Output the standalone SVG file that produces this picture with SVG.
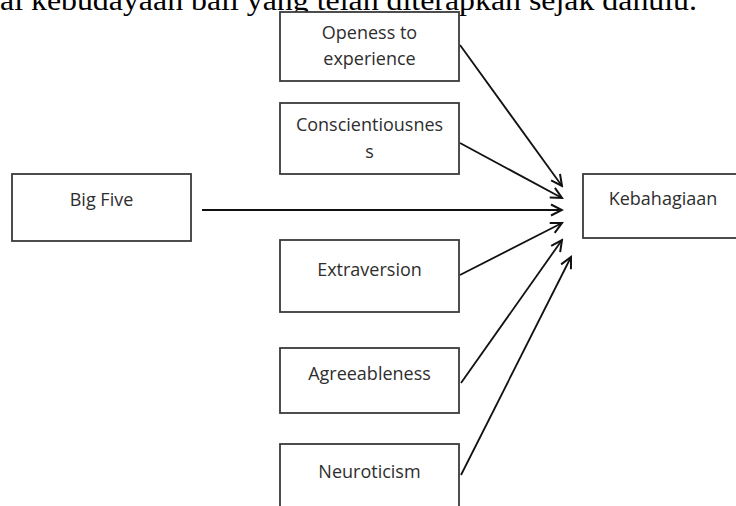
<svg xmlns="http://www.w3.org/2000/svg" width="736" height="506" viewBox="0 0 736 506">
<style>
.box{fill:#fff;stroke:#3a3a3a;stroke-width:1.8}
.lbl{font-family:"Open Sans","Liberation Sans",sans-serif;font-size:18px;fill:#2e2e2e;text-anchor:middle}
.con{stroke:#111;stroke-width:1.8;fill:none;marker-end:url(#ah)}
</style>
<defs>
<marker id="ah" viewBox="-12 -7 14 14" markerWidth="14" markerHeight="14" markerUnits="userSpaceOnUse" refX="0" refY="0" orient="auto">
<path d="M-11,-5.5 L0,0 L-11,5.5" fill="none" stroke="#111" stroke-width="2"/>
</marker>
</defs>
<rect width="736" height="506" fill="#fff"/>
<text x="0" y="10" font-family="'Liberation Serif',serif" font-size="30" textLength="697" lengthAdjust="spacingAndGlyphs" fill="#000">ai kebudayaan bali yang telah diterapkan sejak dahulu.</text>
<g id="connectors">
<line class="con" x1="460" y1="45" x2="562" y2="186"/>
<line class="con" x1="460" y1="143" x2="562" y2="198"/>
<line class="con" x1="202" y1="210" x2="562" y2="210"/>
<line class="con" x1="460" y1="275" x2="562" y2="223"/>
<line class="con" x1="461" y1="383" x2="562" y2="240"/>
<line class="con" x1="461" y1="475" x2="571" y2="257"/>
</g>
<g id="openess">
<rect class="box" x="280" y="12" width="179" height="69"/>
<text class="lbl" x="369.5" y="39">Openess to</text>
<text class="lbl" x="369.5" y="65">experience</text>
</g>
<g id="conscientiousness">
<rect class="box" x="280" y="103" width="179" height="71"/>
<text class="lbl" x="369.5" y="131">Conscientiousnes</text>
<text class="lbl" x="369.5" y="158">s</text>
</g>
<g id="bigfive">
<rect class="box" x="12" y="174" width="179" height="67"/>
<text class="lbl" x="101.5" y="206">Big Five</text>
</g>
<g id="kebahagiaan">
<rect class="box" x="583" y="174" width="160" height="64"/>
<text class="lbl" x="663" y="205">Kebahagiaan</text>
</g>
<g id="extraversion">
<rect class="box" x="280" y="240" width="179" height="72"/>
<text class="lbl" x="369.5" y="276">Extraversion</text>
</g>
<g id="agreeableness">
<rect class="box" x="280" y="348" width="179" height="65"/>
<text class="lbl" x="369.5" y="380">Agreeableness</text>
</g>
<g id="neuroticism">
<rect class="box" x="280" y="444" width="179" height="70"/>
<text class="lbl" x="369.5" y="478">Neuroticism</text>
</g>
</svg>
